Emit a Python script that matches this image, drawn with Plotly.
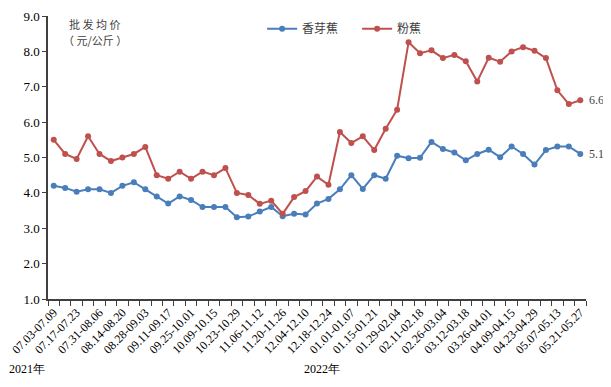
import plotly.graph_objects as go

weeks = ["07.03-07.09", "07.10-07.16", "07.17-07.23", "07.24-07.30", "07.31-08.06", "08.07-08.13",
         "08.14-08.20", "08.21-08.27", "08.28-09.03", "09.04-09.10", "09.11-09.17", "09.18-09.24",
         "09.25-10.01", "10.02-10.08", "10.09-10.15", "10.16-10.22", "10.23-10.29", "10.30-11.05",
         "11.06-11.12", "11.13-11.19", "11.20-11.26", "11.27-12.03", "12.04-12.10", "12.11-12.17",
         "12.18-12.24", "12.25-12.31", "01.01-01.07", "01.08-01.14", "01.15-01.21", "01.22-01.28",
         "01.29-02.04", "02.05-02.10", "02.11-02.18", "02.19-02.25", "02.26-03.04", "03.05-03.11",
         "03.12-03.18", "03.19-03.25", "03.26-04.01", "04.02-04.08", "04.09-04.15", "04.16-04.22",
         "04.23-04.29", "04.30-05.06", "05.07-05.13", "05.14-05.20", "05.21-05.27"]

xiangya = [4.2, 4.14, 4.03, 4.1, 4.1, 4.0, 4.2, 4.3, 4.1, 3.9, 3.7, 3.9, 3.8, 3.6, 3.6, 3.6,
           3.31, 3.33, 3.47, 3.6, 3.34, 3.41, 3.39, 3.7, 3.83, 4.1, 4.5, 4.11, 4.5, 4.4, 5.05,
           4.98, 4.99, 5.44, 5.24, 5.14, 4.92, 5.1, 5.22, 5.01, 5.31, 5.1, 4.8, 5.21, 5.31, 5.31, 5.1]

fenjiao = [5.5, 5.1, 4.96, 5.6, 5.1, 4.9, 5.0, 5.1, 5.3, 4.5, 4.4, 4.6, 4.4, 4.6, 4.5, 4.7,
           4.0, 3.94, 3.69, 3.78, 3.41, 3.88, 4.05, 4.46, 4.23, 5.72, 5.41, 5.6, 5.21, 5.81, 6.35,
           8.26, 7.95, 8.03, 7.81, 7.9, 7.72, 7.15, 7.82, 7.71, 8.0, 8.12, 8.02, 7.81, 6.9, 6.51, 6.62]

series_names = ["香芽蕉", "粉蕉"]
end_labels = ["5.1", "6.6"]
year_labels = ["2021年", "2022年"]
y_title = ["批 发 均 价", "（ 元/公斤 ）"]

blue = "#4a7ebb"
red = "#c0504d"
serif = "Liberation Serif"
cjk = "Noto Sans CJK SC"

fig = go.Figure()
for name, vals, col in [(series_names[0], xiangya, blue), (series_names[1], fenjiao, red)]:
    fig.add_trace(go.Scatter(x=weeks, y=vals, name=name, mode="lines+markers",
                             line=dict(color=col, width=2), marker=dict(color=col, size=6)))

ticktext = [w if i % 2 == 0 else "" for i, w in enumerate(weeks)]

# page body has an 8px default margin, so the figure is sized to fit inside the window
fig.update_layout(
    width=603, height=379,
    margin=dict(l=40, r=25, t=6, b=88),
    plot_bgcolor="white", paper_bgcolor="white",
    showlegend=True,
    legend=dict(orientation="h", x=0.398, y=0.955, xanchor="left", yanchor="middle",
                font=dict(family=cjk, size=12, color="#404040"),
                bgcolor="rgba(0,0,0,0)", itemwidth=30, entrywidth=50),
    xaxis=dict(type="category", tickmode="array", tickvals=weeks, ticktext=ticktext,
               tickson="boundaries", ticks="outside", ticklen=5, tickcolor="#404040",
               tickangle=-45, showline=True, linecolor="#404040", linewidth=1.5,
               showgrid=False, automargin=False,
               tickfont=dict(family=serif, size=12, color="#000000"),
               range=[-0.5, len(weeks) - 0.5]),
    yaxis=dict(range=[1, 9], dtick=1, tickformat=".1f", ticks="outside", ticklen=4,
               tickcolor="#404040", showline=True, linecolor="#404040", linewidth=1.5,
               showgrid=False, zeroline=False, automargin=False,
               tickfont=dict(family=serif, size=13, color="#000000")),
)

for text, yy in zip(y_title, [0.972, 0.916]):
    fig.add_annotation(x=0.087, y=yy, xref="paper", yref="paper", text=text, showarrow=False,
                       xanchor="center", yanchor="middle",
                       font=dict(family=cjk, size=11, color="#404040"))

for vals, lab in [(xiangya, end_labels[0]), (fenjiao, end_labels[1])]:
    fig.add_annotation(x=weeks[-1], y=vals[-1], text=lab, showarrow=False, xanchor="left",
                       xshift=7, font=dict(family=serif, size=12, color="#404040"))

for text, xx in zip(year_labels, [-0.076, 0.472]):
    fig.add_annotation(x=xx, y=-0.249, xref="paper", yref="paper", text=text,
                       showarrow=False, xanchor="left", yanchor="middle",
                       font=dict(family=serif, size=12, color="#000000"))

fig.write_html("out.html")
